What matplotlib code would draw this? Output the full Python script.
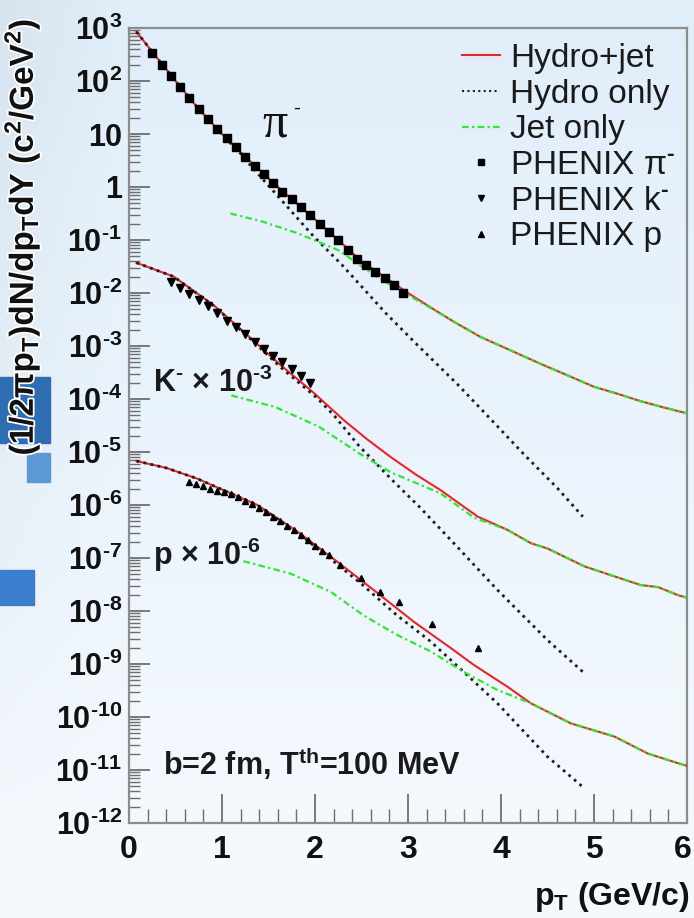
import numpy as np
import matplotlib
matplotlib.use("Agg")
import matplotlib.pyplot as plt
from matplotlib.ticker import LogLocator, MultipleLocator, NullFormatter, FixedLocator, FuncFormatter
from matplotlib.patches import Rectangle
import matplotlib.patheffects as pe

plt.rcParams['font.family'] = ['Liberation Sans', 'DejaVu Sans']
plt.rcParams['font.weight'] = 'bold'
plt.rcParams['mathtext.fontset'] = 'custom'
plt.rcParams['mathtext.rm'] = 'Liberation Sans'
plt.rcParams['mathtext.bf'] = 'Liberation Sans:bold'
plt.rcParams['mathtext.it'] = 'Liberation Sans:italic'
plt.rcParams['mathtext.sf'] = 'Liberation Sans'

HY = '\u2010'  # short hyphen used as minus sign in exponents

# ---------------- data ----------------
# pi-
pi_data_pt = [0.25, 0.35, 0.45, 0.55, 0.65, 0.75, 0.85, 0.95, 1.05, 1.15, 1.25, 1.35, 1.45, 1.55,
              1.65, 1.75, 1.85, 1.95, 2.05, 2.15, 2.25, 2.35, 2.45, 2.55, 2.65, 2.75, 2.85, 2.95]
pi_data_y = [331, 200, 124, 77.6, 46.8, 29.5, 19.1, 12.3, 8.32, 5.62, 3.72, 2.51, 1.76, 1.20,
             0.813, 0.589, 0.427, 0.302, 0.200, 0.140, 0.100, 0.0646, 0.0447, 0.0331, 0.0245,
             0.0191, 0.0141, 0.0102]
pi_hj_pt = [0.08, 0.25, 0.5, 0.75, 1.0, 1.25, 1.5, 1.75, 2.0, 2.25, 2.5, 2.75, 3.0, 3.25, 3.5,
            3.78, 4.1, 4.43, 4.75, 5.0, 5.25, 5.5, 5.75, 6.0]
pi_hj_y = [851, 355, 100, 29.5, 10.0, 3.72, 1.45, 0.589, 0.245, 0.100, 0.0398, 0.0200, 0.0100,
           5.25e-3, 2.82e-3, 1.48e-3, 8.32e-4, 4.57e-4, 2.63e-4, 1.70e-4, 1.26e-4, 9.12e-5,
           6.92e-5, 5.37e-5]
pi_hydro_pt = [0.08, 0.25, 0.5, 0.75, 1.0, 1.2, 1.32, 1.645, 1.97, 2.29, 2.76, 3.1, 3.53, 3.9,
               4.25, 4.6, 4.88]
pi_hydro_y = [851, 355, 100, 29.5, 9.77, 4.27, 2.40, 0.550, 0.125, 0.0339, 4.17e-3, 1.05e-3,
              1.91e-4, 3.98e-5, 8.91e-6, 2.14e-6, 6.03e-7]
pi_jet_pt = [1.09, 1.43, 1.82, 2.26, 2.65, 3.0, 3.25, 3.5, 3.78, 4.1, 4.43, 4.75, 5.0, 5.25,
             5.5, 5.75, 6.0]
pi_jet_y = [0.316, 0.224, 0.133, 0.0631, 0.0209, 9.12e-3, 5.13e-3, 2.82e-3, 1.48e-3, 8.32e-4,
            4.57e-4, 2.63e-4, 1.70e-4, 1.26e-4, 9.12e-5, 6.92e-5, 5.37e-5]

# K- (x 1e-3)
k_data_pt = [0.45, 0.55, 0.65, 0.75, 0.85, 0.95, 1.05, 1.15, 1.25, 1.35, 1.45, 1.55, 1.65,
             1.75, 1.85, 1.95]
k_data_y = [1.62e-2, 1.26e-2, 9.77e-3, 7.41e-3, 5.62e-3, 4.17e-3, 3.02e-3, 2.24e-3, 1.66e-3,
            1.20e-3, 8.91e-4, 6.61e-4, 4.90e-4, 3.63e-4, 2.69e-4, 2.00e-4]
k_hj_pt = [0.08, 0.48, 0.91, 1.27, 1.63, 1.99, 2.31, 2.56, 2.81, 3.08, 3.35, 3.75, 4.07, 4.32,
           4.50, 4.90, 5.50, 5.69, 5.90, 6.0]
k_hj_y = [3.72e-2, 2.04e-2, 5.89e-3, 1.62e-3, 4.37e-4, 1.29e-4, 3.98e-5, 1.74e-5, 8.13e-6,
          3.80e-6, 1.91e-6, 6.03e-7, 3.39e-7, 1.91e-7, 1.51e-7, 6.92e-8, 3.09e-8, 2.82e-8,
          2.00e-8, 1.78e-8]
k_hydro_pt = [0.08, 0.48, 0.91, 1.27, 1.63, 2.02, 2.20, 2.47, 2.83, 3.12, 3.53, 3.96, 4.50, 4.90]
k_hydro_y = [3.72e-2, 2.04e-2, 5.75e-3, 1.55e-3, 3.98e-4, 1.05e-4, 5.01e-5, 1.32e-5, 2.95e-6,
             9.33e-7, 1.62e-7, 2.51e-8, 2.82e-9, 6.61e-10]
k_jet_pt = [1.10, 1.57, 2.04, 2.47, 2.81, 3.35, 3.71, 4.07, 4.32, 4.50, 4.90, 5.50, 5.69, 5.90,
            6.0]
k_jet_y = [1.17e-4, 7.08e-5, 3.02e-5, 9.55e-6, 4.17e-6, 1.66e-6, 5.75e-7, 3.39e-7, 1.91e-7,
           1.51e-7, 6.92e-8, 3.09e-8, 2.82e-8, 2.00e-8, 1.78e-8]

# p (x 1e-6)
p_data_pt = [0.65, 0.72, 0.80, 0.87, 0.95, 1.02, 1.10, 1.17, 1.25, 1.32, 1.40, 1.47, 1.55, 1.62,
             1.70, 1.77, 1.85, 1.92, 2.00, 2.07, 2.15, 2.27, 2.49, 2.70, 2.90, 3.26, 3.75]
p_data_y = [2.75e-6, 2.51e-6, 2.24e-6, 2.04e-6, 1.86e-6, 1.74e-6, 1.58e-6, 1.41e-6, 1.20e-6,
            1.05e-6, 8.71e-7, 7.24e-7, 5.89e-7, 4.90e-7, 3.98e-7, 3.31e-7, 2.69e-7, 2.19e-7,
            1.70e-7, 1.38e-7, 1.15e-7, 7.41e-8, 4.17e-8, 2.29e-8, 1.51e-8, 5.75e-9, 2.00e-9]
p_hj_pt = [0.08, 0.4, 0.73, 1.38, 1.81, 2.24, 2.70, 3.06, 3.46, 3.71, 4.07, 4.32, 4.75, 5.22,
           5.58, 5.90, 6.0]
p_hj_y = [6.76e-6, 5.01e-6, 3.16e-6, 1.00e-6, 3.16e-7, 8.51e-8, 2.00e-8, 6.31e-9, 2.00e-9,
          9.55e-10, 3.72e-10, 1.82e-10, 7.59e-11, 4.27e-11, 2.04e-11, 1.35e-11, 1.20e-11]
p_hydro_pt = [0.08, 0.4, 0.73, 1.38, 1.81, 2.24, 2.52, 2.88, 3.24, 3.60, 3.96, 4.50, 4.90]
p_hydro_y = [6.76e-6, 5.01e-6, 3.16e-6, 1.00e-6, 3.02e-7, 7.59e-8, 3.02e-8, 8.32e-9, 2.69e-9,
             7.08e-10, 1.82e-10, 1.78e-11, 4.47e-12]
p_jet_pt = [1.23, 1.73, 2.17, 2.52, 2.88, 3.24, 3.60, 3.96, 4.32, 4.75, 5.22, 5.58, 5.90, 6.0]
p_jet_y = [8.71e-8, 5.13e-8, 2.29e-8, 8.32e-9, 3.55e-9, 1.74e-9, 7.08e-10, 3.24e-10, 1.82e-10,
           7.59e-11, 4.27e-11, 2.04e-11, 1.35e-11, 1.20e-11]

legend_labels = ['Hydro+jet', 'Hydro only', 'Jet only',
                 'PHENIX π$^{' + HY + '}$', 'PHENIX k$^{' + HY + '}$', 'PHENIX p']
ytick_exps = list(range(-12, 4))
xtick_vals = [0, 1, 2, 3, 4, 5, 6]

# ---------------- figure ----------------
W, H = 694, 918
fig = plt.figure(figsize=(W / 100, H / 100), dpi=100)

# background gradient (slide background)
bg = fig.add_axes([0, 0, 1, 1], zorder=-10)
bg.axis('off')
yy = np.linspace(0, 1, H)[:, None]
xx = np.linspace(0, 1, W)[None, :]
top = np.array([224, 238, 250]) / 255.0
bot = np.array([246, 250, 254]) / 255.0
img = top[None, None, :] * (1 - yy[..., None]) + bot[None, None, :] * yy[..., None]
img = img * np.ones((H, W, 1))
left_dark = np.clip((0.17 - xx) / 0.17, 0, 1)[..., None] * 0.04 * (1 - yy[..., None])
img = np.clip(img - left_dark, 0, 1)
bg.imshow(img, aspect='auto', extent=[0, 1, 0, 1], origin='upper')
bg.set_xlim(0, 1); bg.set_ylim(0, 1)

def frect(x0, y0, x1, y1, color):
    fig.patches.append(Rectangle((x0 / W, 1 - y1 / H), (x1 - x0) / W, (y1 - y0) / H,
                                 transform=fig.transFigure, color=color, zorder=-5))

frect(0, 377, 50, 443, '#2f6db3')
frect(27, 453, 50, 482, '#5d98d6')
frect(0, 570, 34, 605, '#3b7ecd')

ax = fig.add_axes([129 / W, 1 - 823 / H, (687 - 129) / W, (823 - 28) / H])
ax.set_facecolor('none')
ax.set_yscale('log')
ax.set_xlim(0, 6)
ax.set_ylim(1e-12, 1e3)

red = '#e8262a'
blk = '#1e1e1e'
grn = '#2ee82e'
ls_dot = (0, (1.0, 1.6))
ls_jet = (0, (3.0, 1.5, 1.0, 1.5))

for xs, ys in [(pi_hj_pt, pi_hj_y), (k_hj_pt, k_hj_y), (p_hj_pt, p_hj_y)]:
    ax.plot(xs, ys, color=red, lw=1.5, zorder=3)
for xs, ys in [(pi_hydro_pt, pi_hydro_y), (k_hydro_pt, k_hydro_y), (p_hydro_pt, p_hydro_y)]:
    ax.plot(xs, ys, color=blk, lw=2.0, linestyle=ls_dot, zorder=3)
for xs, ys in [(pi_jet_pt, pi_jet_y), (k_jet_pt, k_jet_y), (p_jet_pt, p_jet_y)]:
    ax.plot(xs, ys, color=grn, lw=1.6, linestyle=ls_jet, zorder=4)

ax.plot(pi_data_pt, pi_data_y, linestyle='none', marker='s', ms=5.5, color='black', zorder=5)
ax.plot(k_data_pt, k_data_y, linestyle='none', marker='v', ms=6, color='black', zorder=5)
ax.plot(p_data_pt, p_data_y, linestyle='none', marker='^', ms=5, color='black', zorder=5)

# legend
hl = [
    plt.Line2D([], [], color=red, lw=1.5),
    plt.Line2D([], [], color=blk, lw=1.5, linestyle=ls_dot),
    plt.Line2D([], [], color=grn, lw=1.6, linestyle=ls_jet),
    plt.Line2D([], [], linestyle='none', marker='s', ms=5, color='black'),
    plt.Line2D([], [], linestyle='none', marker='v', ms=5, color='black'),
    plt.Line2D([], [], linestyle='none', marker='^', ms=5, color='black'),
]
leg = ax.legend(hl, legend_labels, loc='upper left', bbox_to_anchor=(0.597, 0.981),
                frameon=False, prop={'size': 24, 'weight': 'normal'}, handlelength=1.15,
                handletextpad=0.3, labelspacing=0.14, borderpad=0, borderaxespad=0)
for t in leg.get_texts():
    t.set_color('#1a1a1a')

# ticks
def yfmt(v, pos):
    e = int(round(np.log10(v)))
    if e == 0:
        return '1'
    if e == 1:
        return '10'
    s = str(e).replace('-', HY)
    return '10$^{\\mathbf{' + s + '}}$'

def xfmt(v, pos):
    i = int(round(v))
    return '' if i == xtick_vals[-1] else '%d' % i

ax.yaxis.set_major_locator(FixedLocator([10.0 ** e for e in ytick_exps]))
ax.yaxis.set_major_formatter(FuncFormatter(yfmt))
ax.yaxis.set_minor_locator(LogLocator(base=10, subs=np.arange(2, 10), numticks=200))
ax.yaxis.set_minor_formatter(NullFormatter())
ax.xaxis.set_major_locator(FixedLocator(xtick_vals))
ax.xaxis.set_major_formatter(FuncFormatter(xfmt))
ax.xaxis.set_minor_locator(MultipleLocator(0.2))
ax.tick_params(axis='both', which='major', direction='in', color='#6e6e6e', width=1.3,
               labelcolor='#111111', top=False, right=False)
ax.tick_params(axis='y', which='major', length=15, pad=5, labelsize=22)
ax.tick_params(axis='y', which='minor', direction='in', length=8, width=1.0, color='#6e6e6e',
               right=False)
ax.tick_params(axis='x', which='major', length=21, pad=9, labelsize=23)
ax.tick_params(axis='x', which='minor', direction='in', length=10, width=1.0, color='#6e6e6e',
               top=False)
for s in ax.spines.values():
    s.set_color('#8c8c8c')
    s.set_linewidth(1.6)

# last x tick label, nudged inside the figure edge like the reference
ax.text(5.955, -0.0157, '%d' % xtick_vals[-1], transform=ax.get_xaxis_transform(),
        ha='center', va='top', fontsize=23, color='#111111')

# annotations
ax.text(1.43, 15, 'π', fontfamily=['Liberation Serif', 'DejaVu Serif'], fontsize=36,
        fontweight='normal', color='#111111', ha='left', va='center')
ax.text(1.77, 30, HY, fontfamily='Liberation Sans', fontsize=15, fontweight='normal',
        color='#111111', ha='left', va='center')
ax.text(0.26, 1.95e-4, 'K$^{\\mathbf{' + HY + '}}$ $\\times$ 10$^{\\mathbf{' + HY + '3}}$',
        fontsize=22, color='#1a1a1a', ha='left', va='center')
ax.text(0.26, 1.15e-7, 'p $\\times$ 10$^{\\mathbf{' + HY + '6}}$',
        fontsize=22, color='#1a1a1a', ha='left', va='center')
ax.text(0.37, 1.3e-11, 'b=2 fm, T$^{\\mathbf{th}}$=100 MeV',
        fontsize=22, color='#1a1a1a', ha='left', va='center')

fig.text(22 / W, 1 - 18 / H,
         '(1/2πp$_{\\mathbf{T}}$)dN/dp$_{\\mathbf{T}}$dY (c$^{\\mathbf{2}}$/GeV$^{\\mathbf{2}}$)',
         rotation=90, ha='center', va='top', fontsize=24, color='#111111',
         path_effects=[pe.withStroke(linewidth=2.5, foreground='white')])
fig.text(690 / W, 1 - 897 / H, 'p$_{\\mathbf{T}}$ (GeV/c)', ha='right', va='center',
         fontsize=23, color='#111111')

fig.savefig('out.png', dpi=100)
